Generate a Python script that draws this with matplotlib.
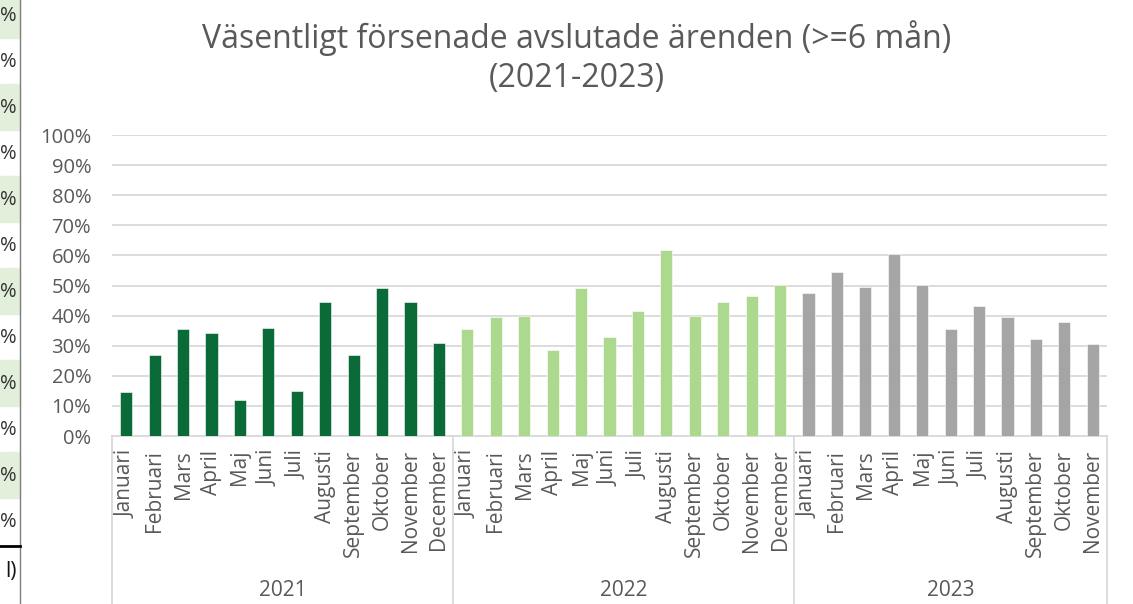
import matplotlib.pyplot as plt
from matplotlib.patches import Rectangle
from matplotlib.transforms import blended_transform_factory

plt.rcParams['font.family'] = ['Open Sans', 'DejaVu Sans']

# Data (share of cases)
months_full = ['Januari', 'Februari', 'Mars', 'April', 'Maj', 'Juni', 'Juli',
               'Augusti', 'September', 'Oktober', 'November', 'December']
years = ['2021', '2022', '2023']
values_2021 = [0.145, 0.268, 0.356, 0.341, 0.119, 0.358, 0.151, 0.444,
               0.270, 0.491, 0.444, 0.310]
values_2022 = [0.355, 0.395, 0.399, 0.286, 0.492, 0.329, 0.415, 0.618,
               0.399, 0.445, 0.465, 0.502]
values_2023 = [0.475, 0.546, 0.495, 0.605, 0.502, 0.355, 0.432, 0.395,
               0.321, 0.379, 0.306]
year_colors = ['#0A6A38', '#ADD98F', '#A5A5A5']

W, H = 1133, 604
fig = plt.figure(figsize=(W / 100, H / 100), dpi=100)

# left strip: cut-off spreadsheet cells behind the chart
row_h = 46
for i in range(12):
    top = -8 + i * row_h
    if i % 2 == 0:
        fig.patches.append(Rectangle((0, 1 - (top + row_h) / H), 20 / W, row_h / H,
                                     transform=fig.transFigure, color='#E2EFDA', zorder=0))
    fig.text(17 / W, 1 - (top + row_h / 2 + 1) / H, '%', ha='right', va='center',
             fontsize=14.5, color='#333333')
fig.text(17 / W, 1 - 571 / H, 'l)', ha='right', va='center', fontsize=15, color='#111111')
fig.add_artist(plt.Line2D([20 / W, 20 / W], [0, 1], transform=fig.transFigure,
                          color='#7F7F7F', lw=1))
fig.add_artist(plt.Line2D([0, 20 / W], [1 - 546 / H, 1 - 546 / H], transform=fig.transFigure,
                          color='#000000', lw=2))

ax = fig.add_axes([112 / W, 1 - 436 / H, 995 / W, 301 / H])

series = [values_2021, values_2022, values_2023]
labels = []
pos = 0
for yi, vals in enumerate(series):
    xs = list(range(pos, pos + len(vals)))
    ax.bar(xs, vals, width=0.43, color=year_colors[yi], edgecolor='white',
           linewidth=0.4, zorder=3)
    labels += months_full[:len(vals)]
    pos += len(vals)
n = pos

ax.set_xlim(-0.5, n - 0.5)
ax.set_ylim(0, 1)
ax.set_yticks([i / 10 for i in range(11)])
ax.set_yticklabels(['{}%'.format(i * 10) for i in range(11)], fontsize=14.5, color='#595959')
ax.yaxis.grid(True, color='#D9D9D9', lw=1.3, zorder=0)
ax.tick_params(axis='y', length=0, pad=15)

ax.set_xticks(range(n))
ax.set_xticklabels(labels, rotation=90, fontsize=15, color='#595959')
ax.tick_params(axis='x', length=0, pad=10)

for s in ['top', 'right', 'left']:
    ax.spines[s].set_visible(False)
ax.spines['bottom'].set_color('#D9D9D9')
ax.spines['bottom'].set_linewidth(1.3)

# multi-level category axis: year separators and year labels
trans = blended_transform_factory(ax.transData, ax.transAxes)
depth = -(H - 436) / 301
pos = 0
bounds = [-0.5]
for vals in series:
    pos += len(vals)
    bounds.append(pos - 0.5)
for b in bounds:
    ax.plot([b, b], [0, depth], transform=trans, color='#D9D9D9', lw=1.3, clip_on=False)
for yi in range(len(years)):
    mid = (bounds[yi] + bounds[yi + 1]) / 2
    ax.text(mid, -(591 - 436) / 301, years[yi], transform=trans, ha='center', va='center',
            fontsize=15, color='#595959')

fig.text(577 / W, 1 - 38 / H, 'Väsentligt försenade avslutade ärenden (>=6 mån)',
         ha='center', va='center', fontsize=23, color='#595959')
fig.text(577 / W, 1 - 78 / H, '(2021-2023)', ha='center', va='center',
         fontsize=23, color='#595959')

fig.savefig('out.png', dpi=100)
